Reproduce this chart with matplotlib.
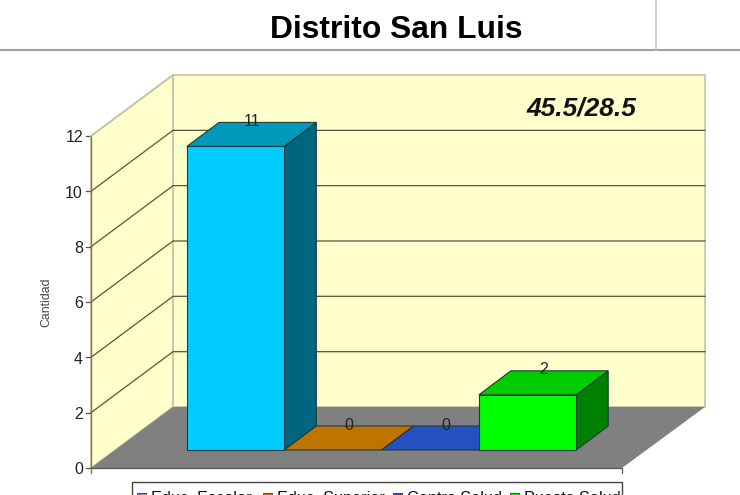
import matplotlib
matplotlib.use("Agg")
import matplotlib.pyplot as plt
from matplotlib.patches import Polygon, Rectangle

plt.rcParams['font.family'] = ['Liberation Sans', 'DejaVu Sans']

titulo = "Distrito San Luis"
nota = "45.5/28.5"
eje_y = "Cantidad"
categorias = ["Educ. Escolar", "Educ. Superior", "Centro Salud", "Puesto Salud"]
valores = [11, 0, 0, 2]
ticks_y = [0, 2, 4, 6, 8, 10, 12]

color_frente = ["#00CCFF", "#C07400", "#2450C0", "#00FF00"]
color_techo = ["#0099BB", "#C07400", "#2450C0", "#00CC00"]
color_lado = ["#006680", "#8A5400", "#1A3A8C", "#008000"]
color_leyenda = ["#8C8CE0", "#C07400", "#2450C0", "#00FF00"]

# geometria de la caja 3D, en pixeles de la imagen
x0, x1, y0 = 91, 622, 468
prof_x, prof_y = 82, 61
px_unidad = (468 - 136) / 12

bar_x0, bar_w, bar_y0 = 187, 97.3, 450
bar_dx, bar_dy = 32, 24
bar_px = 27.6

fig = plt.figure(figsize=(7.4, 4.95), dpi=100)
ax = fig.add_axes([0, 0, 1, 1])
ax.set_xlim(0, 740)
ax.set_ylim(495, 0)
ax.axis("off")


def poly(puntos, color, borde="none", lw=0.8, z=1):
    ax.add_patch(Polygon(puntos, closed=True, facecolor=color, edgecolor=borde, linewidth=lw, zorder=z))


# encabezado
ax.plot([0, 740], [50, 50], color="#A0A0A0", lw=1.5)
ax.plot([656, 656], [0, 50], color="#C8C8C8", lw=1.2)
ax.text(396, 30.5, titulo, fontsize=22.9, fontweight="bold", ha="center", va="center", color="black")

# paredes y piso
y_tope = y0 - 12 * px_unidad
borde_pared = "#C4C4A4"
poly([(x0, y_tope), (x0 + prof_x, y_tope - prof_y), (x0 + prof_x, y0 - prof_y), (x0, y0)], "#FFFFCC", borde_pared, 1.2)
poly([(x0 + prof_x, y_tope - prof_y), (x1 + prof_x + 1, y_tope - prof_y), (x1 + prof_x + 1, y0 - prof_y), (x0 + prof_x, y0 - prof_y)], "#FFFFCC", borde_pared, 1.2)

for t in ticks_y:
    y = y0 - t * px_unidad
    ax.plot([x0 - 5, x0], [y, y], color="#555555", lw=0.9, zorder=2)
    ax.text(x0 - 8, y + 2, str(t), fontsize=11.5, ha="right", va="center", color="#222222")
    if 0 < t < 12:
        ax.plot([x0, x0 + prof_x, x1 + prof_x + 1], [y, y - prof_y, y - prof_y], color="#55553F", lw=0.9, zorder=2)

ax.plot([x0, x0], [y_tope, y0 + 5], color="#77776A", lw=1, zorder=2)
ax.plot([x0, x0 + prof_x], [y_tope, y_tope - prof_y], color=borde_pared, lw=1.2, zorder=2)
poly([(x0, y0), (x0 + prof_x, y0 - prof_y), (x1 + prof_x + 1, y0 - prof_y), (x1, y0)], "#808080", z=3)
ax.plot([x0, x1, x1], [y0, y0, y0 + 5], color="#555555", lw=0.9, zorder=4)

ax.text(46, 302, eje_y, fontsize=8.8, rotation=90, ha="center", va="center", color="#444444")
ax.text(581, 108, nota, fontsize=19, fontweight="bold", style="italic", ha="center", va="center", color="#111111", zorder=20)

# barras
for i, v in enumerate(valores):
    a = bar_x0 + i * bar_w
    b = a + bar_w
    arriba = bar_y0 - v * bar_px
    borde = "#1F3A3A"
    z = 5 + i
    if v > 0:
        poly([(b, arriba), (b + bar_dx, arriba - bar_dy), (b + bar_dx, bar_y0 - bar_dy), (b, bar_y0)], color_lado[i], borde, z=z)
        poly([(a, bar_y0), (b, bar_y0), (b, arriba), (a, arriba)], color_frente[i], borde, z=z)
    poly([(a, arriba), (b, arriba), (b + bar_dx, arriba - bar_dy), (a + bar_dx, arriba - bar_dy)], color_techo[i], borde, z=z)
    ax.text(a + bar_w / 2 + bar_dx / 2, arriba - bar_dy - 1, str(v), fontsize=11.5, ha="center", va="center", color="#222222", zorder=15)

# leyenda, cortada por el borde inferior de la imagen
ax.add_patch(Rectangle((132, 482), 490, 30, facecolor="white", edgecolor="#444444", linewidth=1, zorder=10))
pos_cuadro = [137, 263, 393, 510]
pos_texto = [151, 277, 407, 524]
for i, nombre in enumerate(categorias):
    ax.add_patch(Rectangle((pos_cuadro[i], 493), 9, 9, facecolor=color_leyenda[i], edgecolor="#333333", linewidth=0.6, zorder=11))
    ax.text(pos_texto[i], 498.5, nombre, fontsize=11.7, ha="left", va="center", color="#111111", zorder=11)

fig.savefig("out.png", dpi=100)
